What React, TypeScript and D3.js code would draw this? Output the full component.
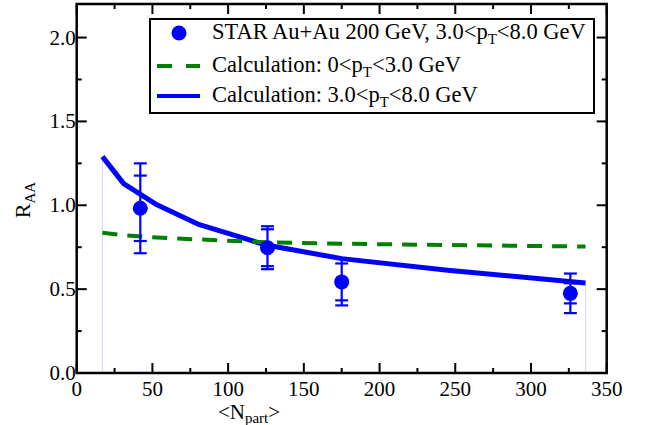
import React from "react";
import * as d3 from "d3";

// ---- data ----
const curveNpart = [17, 31, 53, 81, 125, 175, 245, 336];
const curveHighPt = [1.29, 1.129, 1.003, 0.884, 0.763, 0.682, 0.612, 0.537];
const curveLowPt = [0.836, 0.821, 0.808, 0.796, 0.779, 0.771, 0.763, 0.754];

const starNpart = [42, 126, 175, 326];
const starRaa = [0.982, 0.747, 0.543, 0.475];
const starStatErr = [0.195, 0.11, 0.11, 0.06];
const starSysErr = [0.268, 0.128, 0.14, 0.118];

const xMajorTicks = [0, 50, 100, 150, 200, 250, 300, 350];
const xMinorTicks = [25, 75, 125, 175, 225, 275, 325];
const yMajorTicks = [0, 0.5, 1.0, 1.5, 2.0];
const yMinorTicks = [0.25, 0.75, 1.25, 1.75];

const W = 652;
const H = 425;
const left = 76.7;
const right = 606.7;
const top = 4;
const bottom = 373;

const FONT = "'Liberation Serif', 'Times New Roman', serif";
const BLUE = "#0000ff";
const GREEN = "#008000";
const ts: React.CSSProperties = { fontFamily: FONT };

export default function App() {
  const x = d3.scaleLinear().domain([0, 350]).range([left, right]);
  const y = d3.scaleLinear().domain([0, 2.2]).range([bottom, top]);

  const line = d3
    .line<[number, number]>()
    .x((d) => x(d[0]))
    .y((d) => y(d[1]));

  const highPath = line(curveNpart.map((n, i) => [n, curveHighPt[i]]) as [number, number][]) || "";
  const lowPath = line(curveNpart.map((n, i) => [n, curveLowPt[i]]) as [number, number][]) || "";

  const majLen = 10;
  const minLen = 5;
  const capHalf = 6.5;

  const firstN = curveNpart[0];
  const lastN = curveNpart[curveNpart.length - 1];

  return (
    <svg width={W} height={H} style={{ position: "absolute", left: 0, top: 0, fontFamily: FONT }}>
      <rect x={0} y={0} width={W} height={H} fill="#fff" />
      {/* faint vertical lines */}
      <line x1={x(firstN)} x2={x(firstN)} y1={y(curveHighPt[0])} y2={bottom} stroke="#d8d8ff" strokeWidth={1} />
      <line x1={x(lastN)} x2={x(lastN)} y1={y(curveHighPt[curveHighPt.length - 1])} y2={bottom} stroke="#d8d8ff" strokeWidth={1} />

      {/* curves */}
      <path d={highPath} fill="none" stroke={BLUE} strokeWidth={5} strokeLinejoin="round" />
      <path d={lowPath} fill="none" stroke={GREEN} strokeWidth={4} strokeDasharray="15 10" />

      {/* data with error bars */}
      {starNpart.map((n, i) => {
        const cx = x(n);
        const v = starRaa[i];
        const s = starStatErr[i];
        const sy = starSysErr[i];
        return (
          <g key={i} stroke={BLUE} strokeWidth={2.2}>
            <line x1={cx} x2={cx} y1={y(v + sy)} y2={y(v - sy)} />
            {[v + sy, v - sy, v + s, v - s].map((val, j) => (
              <line key={j} x1={cx - capHalf} x2={cx + capHalf} y1={y(val)} y2={y(val)} />
            ))}
            <circle cx={cx} cy={y(v)} r={7.5} fill={BLUE} stroke="none" />
          </g>
        );
      })}

      {/* frame */}
      <rect x={left} y={top} width={right - left} height={bottom - top} fill="none" stroke="#000" strokeWidth={2.5} />

      {/* ticks */}
      <g stroke="#000" strokeWidth={2}>
        {xMajorTicks.map((t) => (
          <g key={"xm" + t}>
            <line x1={x(t)} x2={x(t)} y1={bottom} y2={bottom - majLen} />
            <line x1={x(t)} x2={x(t)} y1={top} y2={top + majLen} />
          </g>
        ))}
        {xMinorTicks.map((t) => (
          <g key={"xn" + t}>
            <line x1={x(t)} x2={x(t)} y1={bottom} y2={bottom - minLen} />
            <line x1={x(t)} x2={x(t)} y1={top} y2={top + minLen} />
          </g>
        ))}
        {yMajorTicks.map((t) => (
          <g key={"ym" + t}>
            <line x1={left} x2={left + majLen} y1={y(t)} y2={y(t)} />
            <line x1={right} x2={right - majLen} y1={y(t)} y2={y(t)} />
          </g>
        ))}
        {yMinorTicks.map((t) => (
          <g key={"yn" + t}>
            <line x1={left} x2={left + minLen} y1={y(t)} y2={y(t)} />
            <line x1={right} x2={right - minLen} y1={y(t)} y2={y(t)} />
          </g>
        ))}
      </g>

      {/* tick labels */}
      <g fontSize={21} fill="#000">
        {xMajorTicks.map((t) => (
          <text key={"xl" + t} style={ts} x={x(t)} y={396} textAnchor="middle">
            {String(t)}
          </text>
        ))}
        {yMajorTicks.map((t) => (
          <text key={"yl" + t} style={ts} x={left - 1} y={y(t) + 7} textAnchor="end">
            {t.toFixed(1)}
          </text>
        ))}
      </g>

      {/* axis titles */}
      <text style={ts} x={249} y={419} textAnchor="middle" fontSize={21}>
        {"<N"}
        <tspan fontSize={15} dy={4}>part</tspan>
        <tspan dy={-4}>{">"}</tspan>
      </text>
      <text style={ts} transform="translate(30,200) rotate(-90)" textAnchor="middle" fontSize={22}>
        R<tspan fontSize={15} dy={5}>AA</tspan>
      </text>

      {/* legend */}
      <rect x={150} y={19} width={444} height={94} fill="#fff" stroke="#000" strokeWidth={2} />
      <circle cx={179} cy={33} r={7.5} fill={BLUE} />
      <line x1={157} x2={200} y1={66} y2={66} stroke={GREEN} strokeWidth={4} strokeDasharray="15 14" />
      <line x1={157} x2={200} y1={96} y2={96} stroke={BLUE} strokeWidth={4} />
      <g fontSize={22.5}>
        <text style={ts} x={212} y={39}>
          STAR Au+Au 200 GeV, 3.0&lt;p<tspan fontSize={15} dy={5}>T</tspan>
          <tspan dy={-5}>&lt;8.0 GeV</tspan>
        </text>
        <text style={ts} x={212} y={72}>
          Calculation: 0&lt;p<tspan fontSize={15} dy={5}>T</tspan>
          <tspan dy={-5}>&lt;3.0 GeV</tspan>
        </text>
        <text style={ts} x={212} y={102}>
          Calculation: 3.0&lt;p<tspan fontSize={15} dy={5}>T</tspan>
          <tspan dy={-5}>&lt;8.0 GeV</tspan>
        </text>
      </g>
    </svg>
  );
}
